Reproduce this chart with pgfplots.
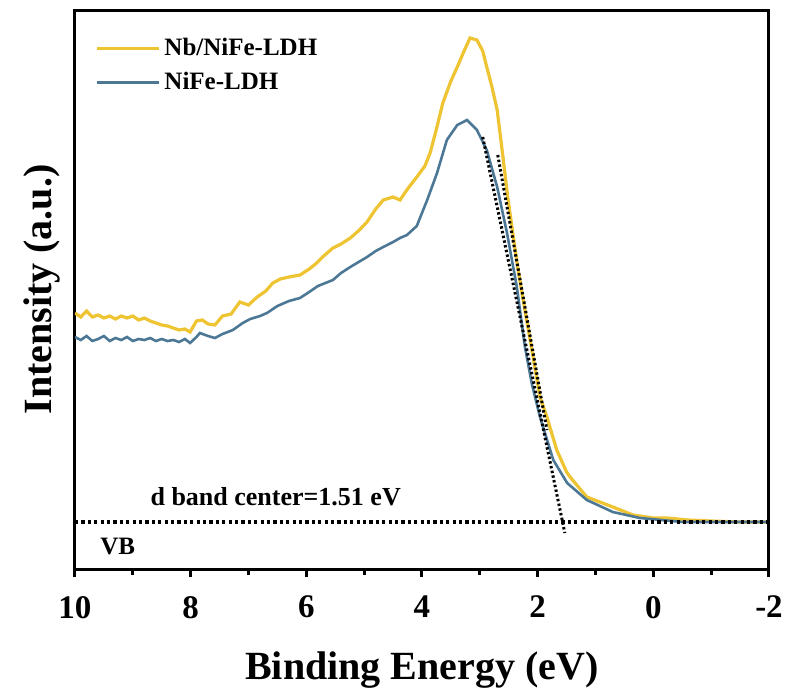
\documentclass[border=0pt]{standalone}
\usepackage{fontspec}
\setmainfont{Liberation Serif}
\usepackage{pgfplots}
\pgfplotsset{compat=1.18}
\definecolor{cyel}{RGB}{238,196,50}
\definecolor{cblu}{RGB}{76,120,150}
\begin{document}
\begin{tikzpicture}
\useasboundingbox (-37.5pt,-59pt) rectangle (356pt,284.5pt);
\begin{axis}[
  scale only axis, width=347pt, height=279.5pt,
  xmin=-2, xmax=10, x dir=reverse, ymin=0, ymax=559,
  axis line style={line width=1.5pt},
  xtick={10,8,6,4,2,0,-2}, xticklabels={10,8,6,4,2,0,-2},
  minor x tick num=1, ytick=\empty,
  xtick pos=bottom, tick align=outside,
  major tick length=4pt, minor tick length=3pt,
  every tick/.style={line width=1.5pt, black},
  xticklabel style={font=\bfseries\fontsize{16.5}{16.5}\selectfont, yshift=-6pt},
  xlabel={\bfseries Binding Energy (eV)},
  ylabel={\bfseries Intensity (a.u.)},
  label style={font=\bfseries\fontsize{20}{20}\selectfont},
  xlabel style={yshift=-10pt},
  ylabel style={yshift=0pt},
  legend style={at={(0.02,0.965)}, anchor=north west, draw=none, fill=none,
    font=\bfseries\fontsize{12.5}{12.5}\selectfont, row sep=3pt},
  legend cell align=left,
  legend image code/.code={\draw[#1] (0pt,0pt) -- (31pt,0pt);},
]
\addplot[cyel, line width=1.6pt] coordinates {
(10.00,256)(9.90,252)(9.80,258)(9.70,252)(9.60,254)(9.50,251)(9.40,253)(9.30,250)
(9.20,253)(9.10,251)(9.00,253)(8.90,249)(8.80,251)(8.70,248)(8.60,246)(8.50,244)
(8.40,243)(8.30,241)(8.20,239)(8.10,240)(8.01,237)(7.90,248)(7.80,249)(7.70,245)
(7.58,244)(7.45,253)(7.30,255)(7.15,267)(7.00,264)(6.85,272)(6.70,278)(6.58,286)
(6.45,290)(6.30,292)(6.11,294)(5.95,300)(5.82,306)(5.70,313)(5.54,321)(5.40,325)
(5.24,331)(5.10,338)(4.95,347)(4.80,360)(4.67,369)(4.50,372)(4.38,369)(4.25,380)
(4.09,392)(3.95,403)(3.86,416)(3.75,440)(3.64,466)(3.50,488)(3.39,502)(3.28,517)
(3.17,531)(3.05,529)(2.95,518)(2.88,502)(2.79,482)(2.70,459)(2.60,412)(2.52,373)
(2.43,336)(2.34,300)(2.25,269)(2.10,219)(1.96,172)(1.84,152)(1.67,119)(1.50,97)
(1.44,92)(1.15,72)(0.70,62)(0.35,54)(0.00,51)(-0.24,51)(-0.60,49)(-1.00,48)
(-1.50,47)(-1.97,47)};
\addlegendentry{Nb/NiFe-LDH}
\addplot[cblu, line width=1.3pt] coordinates {
(10.00,232)(9.90,229)(9.80,233)(9.70,228)(9.60,230)(9.50,233)(9.40,228)(9.30,231)
(9.20,229)(9.10,232)(9.00,228)(8.90,230)(8.80,229)(8.70,231)(8.60,228)(8.50,230)
(8.40,228)(8.30,229)(8.20,227)(8.10,230)(8.01,226)(7.90,232)(7.84,236)(7.70,233)
(7.58,231)(7.45,235)(7.27,239)(7.10,246)(6.97,250)(6.80,253)(6.68,256)(6.50,263)
(6.30,268)(6.11,271)(5.95,277)(5.80,283)(5.54,289)(5.40,296)(5.24,302)(4.95,312)
(4.80,318)(4.67,322)(4.50,327)(4.38,331)(4.26,334)(4.09,343)(3.91,369)(3.74,396)
(3.57,429)(3.39,444)(3.22,449)(3.05,439)(2.88,419)(2.70,382)(2.53,336)(2.36,282)
(2.22,222)(2.10,185)(1.96,152)(1.73,109)(1.49,86)(1.15,69)(0.70,57)(0.23,51)
(-0.51,47)(-1.00,47)(-1.97,47)};
\addlegendentry{NiFe-LDH}
\addplot[black, line width=1.6pt, dash pattern=on 1.6pt off 1.6pt, forget plot] coordinates {(10,47)(-2,47)};
\addplot[black, line width=1.5pt, dash pattern=on 1.2pt off 1.2pt, forget plot] coordinates {(2.95,432)(1.53,36)};
\addplot[black, line width=1.5pt, dash pattern=on 1.2pt off 1.2pt, forget plot] coordinates {(2.69,414)(1.84,139)};
\node[anchor=base west, font=\bfseries\fontsize{13}{13}\selectfont, inner sep=0pt] at (axis cs:8.70,64) {d band center=1.51 eV};
\node[anchor=base west, font=\bfseries\fontsize{12.5}{12.5}\selectfont, inner sep=0pt] at (axis cs:9.57,15) {VB};
\end{axis}
\end{tikzpicture}
\end{document}
